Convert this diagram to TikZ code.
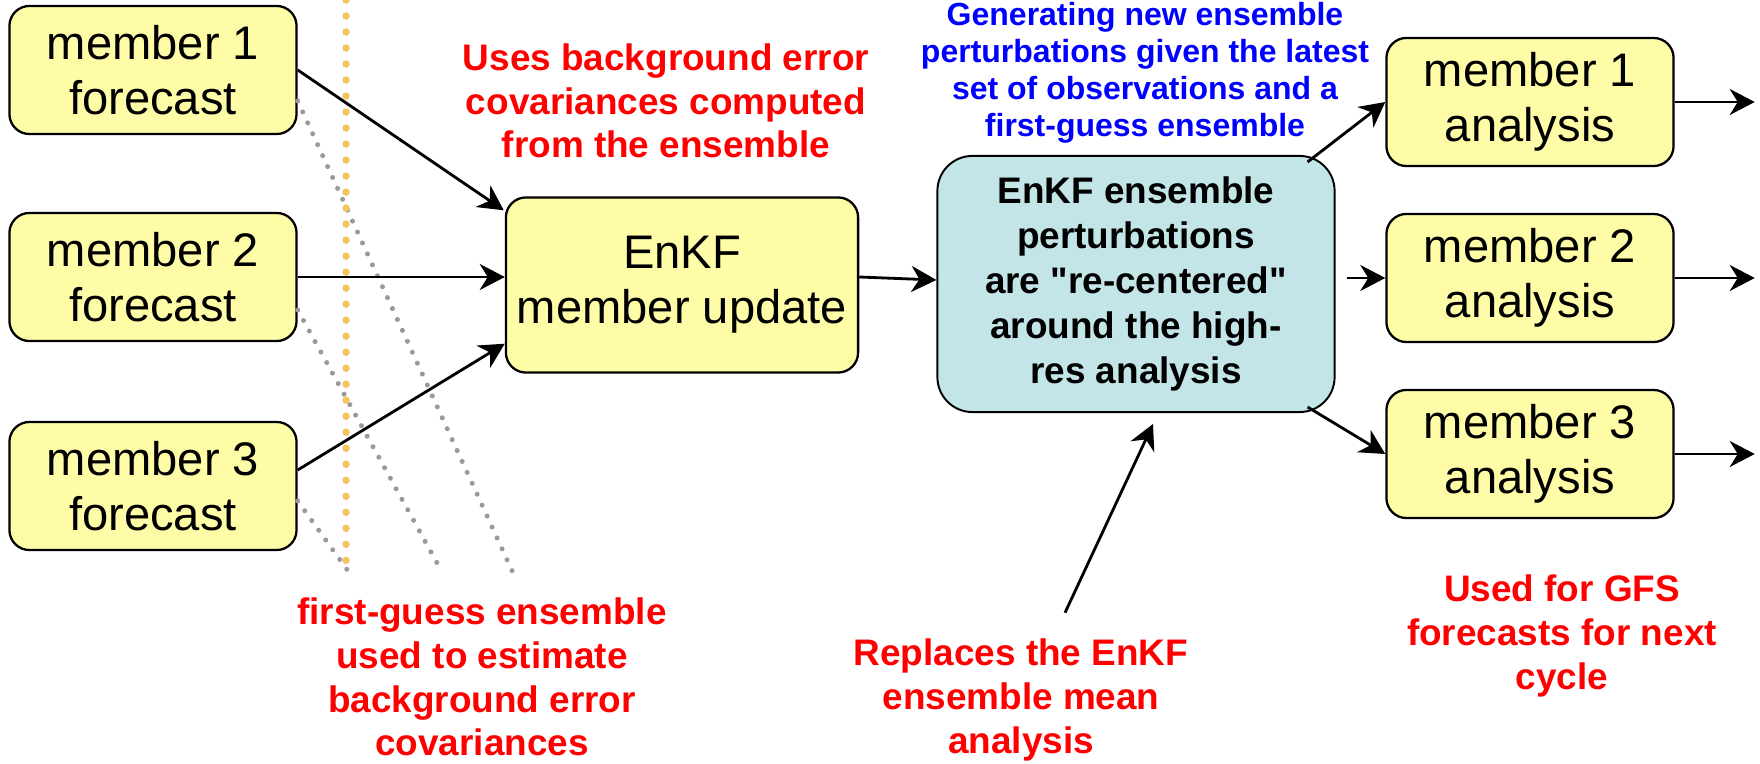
\documentclass[tikz,border=0pt]{standalone}
\usepackage{fontspec}
\setmainfont{Liberation Sans}
\usetikzlibrary{calc,arrows.meta}
\definecolor{boxyellow}{HTML}{FFFCA8}
\definecolor{boxteal}{HTML}{C3E5E7}
\definecolor{dotorange}{HTML}{F6C262}
\definecolor{dotgrey}{HTML}{999999}

\begin{document}
\begin{tikzpicture}[x=0.01cm, y=-0.01cm,
  memberbox/.style={draw, line width=0.65pt, fill=boxyellow, rounded corners=0.2cm,
    minimum width=2.87cm, minimum height=1.28cm, inner sep=0pt, align=center,
    font=\fontsize{13.4}{15.7}\selectfont},
  updatebox/.style={memberbox, minimum width=3.52cm, minimum height=1.75cm},
  recenterbox/.style={draw, line width=0.55pt, fill=boxteal, rounded corners=0.35cm,
    minimum width=3.97cm, minimum height=2.56cm, inner sep=0pt, align=center,
    font=\bfseries\fontsize{10.5}{12.8}\selectfont},
  note/.style={text=red, align=center, font=\bfseries\fontsize{10.5}{12.4}\selectfont},
  bluenote/.style={note, text=blue, font=\bfseries\fontsize{9.1}{10.5}\selectfont},
  arr/.style={-{Stealth[length=0.25cm,width=0.26cm,inset=0.08cm]}, line width=0.8pt},
  greydots/.style={dotgrey, line width=0.05cm, line cap=round, dash pattern=on 0pt off 0.12cm},
  orangedots/.style={dotorange, line width=0.075cm, line cap=round, dash pattern=on 0pt off 0.16cm}]
\useasboundingbox (0,0) rectangle (1760,764);
\node[memberbox] (F1) at (153,70) {member 1\\forecast};
\node[memberbox] (F2) at (153,277) {member 2\\forecast};
\node[memberbox] (F3) at (153,486) {member 3\\forecast};
\node[updatebox] (U) at (682,285) {EnKF\\member update};
\node[recenterbox] (R) at (1136,284) {EnKF ensemble\\perturbations\\are \textquotedbl re-centered\textquotedbl\\around the high-\\res analysis};
\node[memberbox] (A1) at (1530,102) {member 1\\analysis};
\node[memberbox] (A2) at (1530,278) {member 2\\analysis};
\node[memberbox] (A3) at (1530,454) {member 3\\analysis};
\node[note] (N1) at (666,101) {Uses background error\\covariances computed\\from the ensemble};
\node[note] (N2) at (482,677) {first-guess ensemble\\used to estimate\\background error\\covariances};
\node[bluenote] (N3) at (1145,73) {Generating new ensemble\\perturbations given the latest\\set of observations and a\\first-guess ensemble};
\node[note] (N4) at (1021,700) {Replaces the EnKF\\ensemble mean\\analysis};
\node[note] (N5) at (1562,636) {Used for GFS\\forecasts for next\\cycle};
\coordinate (G1) at (514,575);
\coordinate (G2) at (442,572);
\coordinate (G3) at (348,571);
\draw[greydots] ($(F1.east)+(0,31)$) -- (G1);
\draw[greydots] ($(F2.east)+(0,33)$) -- (G2);
\draw[greydots] ($(F3.east)+(0,15)$) -- (G3);
\draw[arr] (F1.east) -- ($(U.north west)+(-1,14)$);
\draw[arr] (F2.east) -- (F2.east -| U.west);
\draw[arr] ($(F3.east)+(0,-16)$) -- ($(U.south west)+(0,-30)$);
\draw[arr] ($(U.east)+(0,-8)$) -- ($(R.west)+(0,-4)$);
\draw[arr] ($(R.north east)+(-28,7)$) -- (A1.west);
\draw[arr] ($(R.east |- A2.west)+(11,0)$) -- (A2.west);
\draw[arr] ($(R.south east)+(-28,-6)$) -- (A3.west);
\draw[arr] ($(N4.north)+(44,-14)$) -- ($(R.south)+(17,11)$);
\foreach \i in {1,2,3} {
  \coordinate (E\i) at ($(A\i.east)+(80,0)$);
  \draw[arr] (A\i.east) -- (E\i);
}
\coordinate (Otop) at (346,0);
\coordinate (Obot) at (346,566);
\draw[orangedots] (Otop) -- (Obot);
\end{tikzpicture}
\end{document}
